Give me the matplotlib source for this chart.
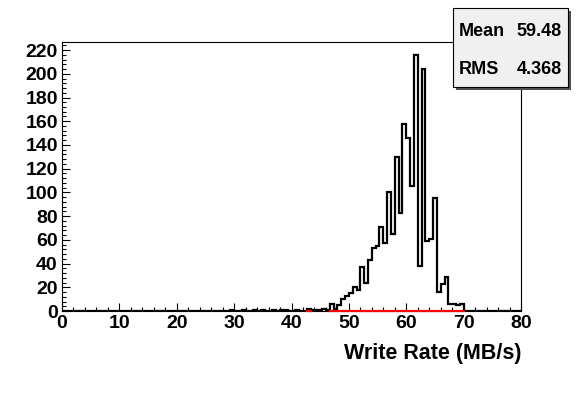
import numpy as np
import matplotlib.pyplot as plt
from matplotlib.patches import Rectangle
from matplotlib.ticker import MultipleLocator

# histogram: 120 bins of 2/3 MB/s between 0 and 80
x_min, x_max, n_bins = 0, 80, 120
first_bin = 44  # bins before this one are empty
counts = [1, 0, 0, 1, 0, 0, 1, 0, 1, 0, 0, 1, 0, 1, 1, 0, 0, 1, 0, 0,
          2, 1, 1, 1, 2, 1, 6, 2, 5, 10, 13, 15, 20, 18, 37, 24, 43, 53, 55, 71,
          57, 100, 65, 130, 83, 158, 146, 105, 216, 38, 204, 59, 61, 95, 16, 23, 29, 6, 6, 5, 6]

# red line drawn along the x axis
red_segments = [(42.67, 43.33), (46.67, 70.0)]

stats_names = ['Mean', 'RMS']
stats_values = ['59.48', '4.368']
x_title = 'Write Rate (MB/s)'

W, H = 587, 394
FONT = 'Liberation Sans'


def main():
    edges = np.linspace(x_min, x_max, n_bins + 1)
    values = np.zeros(n_bins)
    values[first_bin:first_bin + len(counts)] = counts

    fig = plt.figure(figsize=(W / 100, H / 100), dpi=100)
    ax = fig.add_axes([62 / W, 1 - 311 / H, (521 - 62) / W, (311 - 42) / H])

    ax.stairs(values, edges, color='black', linewidth=1.6, baseline=0)
    for a, b in red_segments:
        ax.plot([a, b], [0, 0], color='red', linewidth=1.6, clip_on=False, zorder=5)

    ax.set_xlim(x_min, x_max)
    ax.set_ylim(0, 1.05 * max(counts))

    ax.xaxis.set_major_locator(MultipleLocator(10))
    ax.xaxis.set_minor_locator(MultipleLocator(2))
    ax.yaxis.set_major_locator(MultipleLocator(20))
    ax.yaxis.set_minor_locator(MultipleLocator(4))
    ax.tick_params(which='both', direction='in', top=False, right=False, width=0.8)
    ax.tick_params(which='major', length=6)
    ax.tick_params(which='minor', length=3)
    ax.tick_params(axis='x', pad=3)
    ax.tick_params(axis='y', pad=3)
    for lab in ax.get_xticklabels() + ax.get_yticklabels():
        lab.set_fontfamily(FONT)
        lab.set_fontweight('bold')
        lab.set_fontsize(14)
    for s in ax.spines.values():
        s.set_linewidth(0.8)

    fig.text(521 / W, 1 - 354 / H, x_title, ha='right', va='center',
             fontfamily=FONT, fontweight='bold', fontsize=15.5)

    # stats box with shadow
    bx0, bx1, by0, by1 = 453, 568, 8, 87
    sh = 3
    fig.patches.append(Rectangle(((bx0 + sh) / W, 1 - (by1 + sh) / H), (bx1 - bx0) / W,
                                 (by1 - by0) / H, transform=fig.transFigure,
                                 facecolor='#505050', edgecolor='none', zorder=10))
    fig.patches.append(Rectangle((bx0 / W, 1 - by1 / H), (bx1 - bx0) / W, (by1 - by0) / H,
                                 transform=fig.transFigure, facecolor='#f0f0f0',
                                 edgecolor='black', linewidth=0.8, zorder=11))
    for i, (name, val) in enumerate(zip(stats_names, stats_values)):
        y = 1 - (31 + 39 * i) / H
        fig.text(459 / W, y, name, ha='left', va='center', fontfamily=FONT,
                 fontweight='bold', fontsize=13, zorder=12)
        fig.text(562 / W, y, val, ha='right', va='center', fontfamily=FONT,
                 fontweight='bold', fontsize=13, zorder=12)

    fig.savefig('out.png', dpi=100)


if __name__ == '__main__':
    main()
